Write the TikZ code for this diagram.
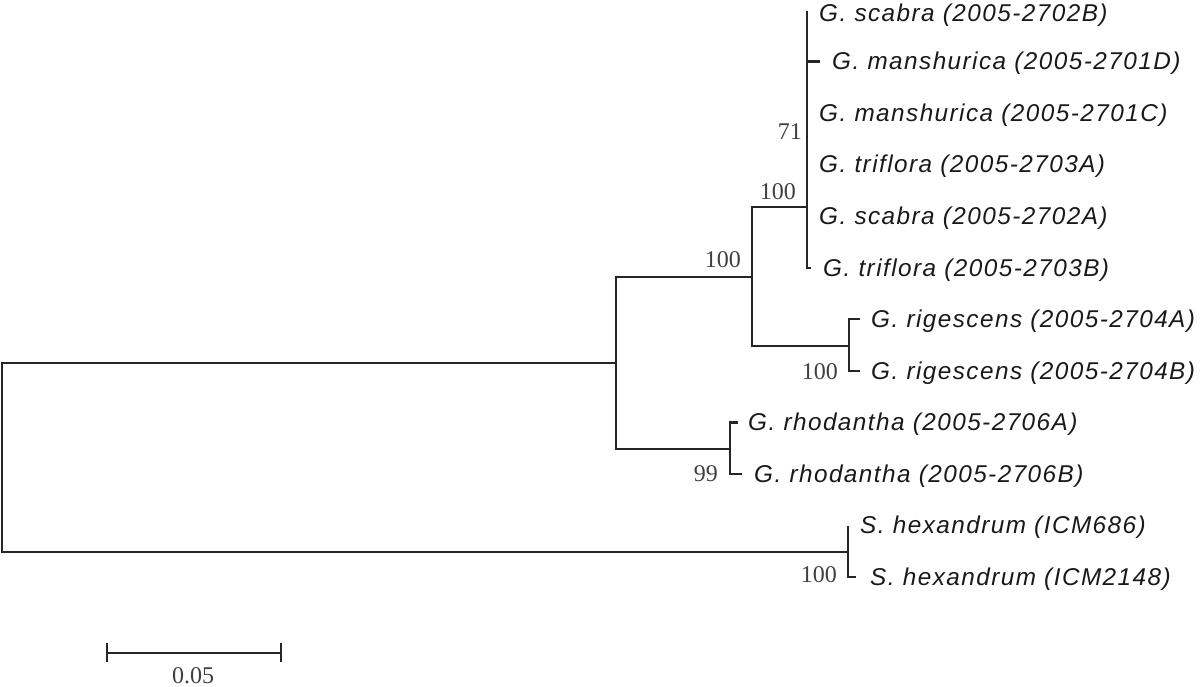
\documentclass[tikz,border=0pt]{standalone}
\usepackage{fontspec}
\newfontfamily\taxonfont{Liberation Sans}[LetterSpace=6]
\newfontfamily\bootfont{Liberation Serif}
\usetikzlibrary{positioning}
\tikzstyle{branch} = [
    line width=2.2pt,
    draw=black!85
]
\tikzstyle{taxon} = [
    inner sep=0pt,
    yshift=-2pt,
    text=black!90,
    font=\taxonfont\itshape\fontsize{24.3}{28}\selectfont
]
\tikzstyle{boot} = [
    anchor=east,
    inner sep=0pt,
    text=black!75,
    font=\bootfont\fontsize{24}{28}\selectfont
]

\begin{document}
\begin{tikzpicture}[x=1pt, y=-1pt]
\useasboundingbox (0,0) rectangle (1200,686);

% inner nodes of the tree
\coordinate (root) at (2,457.4);
\coordinate (gent) at (616,363);
\coordinate (core) at (752,276.7);
\coordinate (top) at (807,207.3);
\coordinate (rig) at (849,345.7);
\coordinate (rhod) at (730,449.3);
\coordinate (hex) at (848,551.7);

% tips
\coordinate (t0) at (807,11);
\coordinate (t1) at (820,61.55);
\coordinate (t2) at (807,113.1);
\coordinate (t3) at (807,164.65);
\coordinate (t4) at (807,216.2);
\coordinate (t5) at (811,267.75);
\coordinate (t6) at (860,319.3);
\coordinate (t7) at (860,370.85);
\coordinate (t8) at (738,422.4);
\coordinate (t9) at (742,473.95);
\coordinate (t10) at (848,525.5);
\coordinate (t11) at (856,577.05);

\draw [branch] (root) |- (gent);
\draw [branch] (root) |- (hex);
\draw [branch] (gent) |- (core);
\draw [branch] (gent) |- (rhod);
\draw [branch] (core) |- (top);
\draw [branch] (core) |- (rig);
\draw [branch] (top) |- (t0);
\draw [branch] (top) |- (t1);
\draw [branch] (top) |- (t5);
\draw [branch] (rig) |- (t6);
\draw [branch] (rig) |- (t7);
\draw [branch] (rhod) |- (t8);
\draw [branch] (rhod) |- (t9);
\draw [branch] (hex) |- (t10);
\draw [branch] (hex) |- (t11);

\node (scabraB) [taxon, right=12pt of t0, yshift=-2pt] {G. scabra (2005-2702B)};
\node (manshD) [taxon, right=12pt of t1] {G. manshurica (2005-2701D)};
\node (manshC) [taxon, right=12pt of t2] {G. manshurica (2005-2701C)};
\node (trifA) [taxon, right=12pt of t3] {G. triflora (2005-2703A)};
\node (scabraA) [taxon, right=12pt of t4] {G. scabra (2005-2702A)};
\node (trifB) [taxon, right=12pt of t5] {G. triflora (2005-2703B)};
\node (rigA) [taxon, right=11pt of t6] {G. rigescens (2005-2704A)};
\node (rigB) [taxon, right=11pt of t7] {G. rigescens (2005-2704B)};
\node (rhodA) [taxon, right=10pt of t8] {G. rhodantha (2005-2706A)};
\node (rhodB) [taxon, right=12pt of t9] {G. rhodantha (2005-2706B)};
\node (hexA) [taxon, right=12pt of t10] {S. hexandrum (ICM686)};
\node (hexB) [taxon, right=14pt of t11] {S. hexandrum (ICM2148)};

% bootstrap values
\node (b71) [boot] at (802,132) {71};
\node (btop) [boot] at (796,192) {100};
\node (bcore) [boot] at (741,260) {100};
\node (brig) [boot] at (838,372) {100};
\node (brhod) [boot] at (718,474) {99};
\node (bhex) [boot] at (837,575) {100};

% scale bar
\coordinate (barL) at (107,652.7);
\coordinate (barR) at (281,652.7);
\draw [branch] (barL) -- (barR);
\draw [branch] ([yshift=-9.5pt]barL) -- ([yshift=9.5pt]barL);
\draw [branch] ([yshift=-9.5pt]barR) -- ([yshift=9.5pt]barR);
\node (barlabel) [boot, anchor=north] at (193,667) {0.05};

\end{tikzpicture}
\end{document}
